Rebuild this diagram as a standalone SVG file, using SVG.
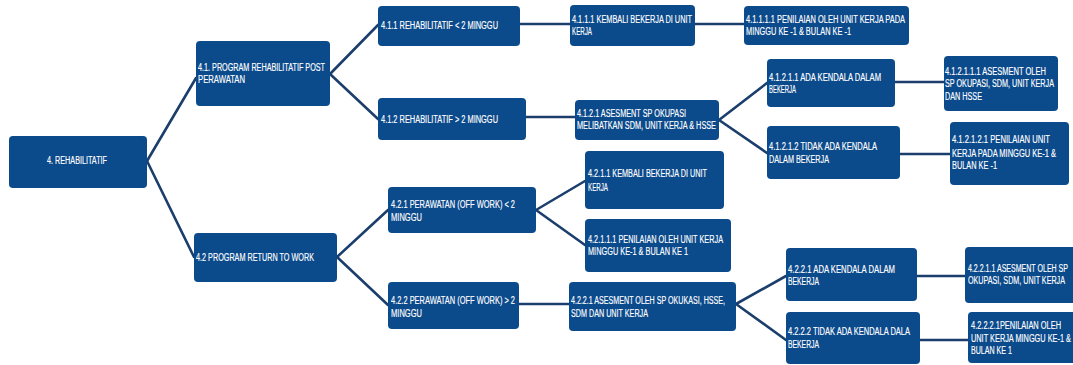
<svg xmlns="http://www.w3.org/2000/svg" width="1073" height="365" viewBox="0 0 1073 365">
<style>
.b{fill:#0b4a8b;}
.t{font-family:"Liberation Sans",Arial,sans-serif;font-size:10px;fill:#ffffff;stroke:#ffffff;stroke-width:0.15;}
.c line{stroke:#1b3e6c;stroke-width:2.6;stroke-linecap:round;}
</style>
<rect width="1073" height="365" fill="#ffffff"/>
<g class="c" id="connectors">
<line x1="147" y1="161" x2="196" y2="78"/>
<line x1="147" y1="161" x2="194" y2="257"/>
<line x1="330" y1="74" x2="378" y2="25"/>
<line x1="330" y1="74" x2="378" y2="119"/>
<line x1="520" y1="24" x2="570" y2="24"/>
<line x1="695" y1="24" x2="744" y2="24"/>
<line x1="526" y1="117" x2="575" y2="117"/>
<line x1="719" y1="120" x2="767" y2="83"/>
<line x1="719" y1="120" x2="767" y2="153"/>
<line x1="895" y1="82" x2="944" y2="82"/>
<line x1="900" y1="154" x2="950" y2="154"/>
<line x1="337" y1="257" x2="388" y2="210"/>
<line x1="337" y1="257" x2="388" y2="305"/>
<line x1="536" y1="210" x2="585" y2="181"/>
<line x1="536" y1="210" x2="585" y2="245"/>
<line x1="519" y1="304" x2="569" y2="304"/>
<line x1="736" y1="304" x2="786" y2="276"/>
<line x1="736" y1="304" x2="786" y2="340"/>
<line x1="917" y1="276" x2="965" y2="276"/>
<line x1="920" y1="340" x2="968" y2="340"/>
</g>
<g id="n4">
<rect class="b" x="9" y="136" width="138" height="52" rx="4"/>
<text class="t" x="47" y="164" textLength="60" lengthAdjust="spacingAndGlyphs">4. REHABILITATIF</text>
</g>
<g id="n41">
<rect class="b" x="196" y="41" width="134" height="65" rx="4"/>
<text class="t" x="198" y="71" textLength="127" lengthAdjust="spacingAndGlyphs">4.1. PROGRAM REHABILITATIF POST</text>
<text class="t" x="198" y="83" textLength="47" lengthAdjust="spacingAndGlyphs">PERAWATAN</text>
</g>
<g id="n42">
<rect class="b" x="194" y="233" width="143" height="49" rx="4"/>
<text class="t" x="196" y="261" textLength="118" lengthAdjust="spacingAndGlyphs">4.2 PROGRAM RETURN TO WORK</text>
</g>
<g id="n411">
<rect class="b" x="378" y="6" width="142" height="40" rx="4"/>
<text class="t" x="381" y="29" textLength="117" lengthAdjust="spacingAndGlyphs">4.1.1 REHABILITATIF &lt; 2 MINGGU</text>
</g>
<g id="n4111">
<rect class="b" x="570" y="5" width="125" height="41" rx="4"/>
<text class="t" x="572" y="23" textLength="120" lengthAdjust="spacingAndGlyphs">4.1.1.1 KEMBALI BEKERJA DI UNIT</text>
<text class="t" x="572" y="35" textLength="20" lengthAdjust="spacingAndGlyphs">KERJA</text>
</g>
<g id="n41111">
<rect class="b" x="744" y="6" width="165" height="39" rx="4"/>
<text class="t" x="746" y="23" textLength="159" lengthAdjust="spacingAndGlyphs">4.1.1.1.1  PENILAIAN OLEH UNIT KERJA PADA</text>
<text class="t" x="746" y="35" textLength="105" lengthAdjust="spacingAndGlyphs">MINGGU KE -1 &amp; BULAN KE -1</text>
</g>
<g id="n412">
<rect class="b" x="378" y="98" width="148" height="42" rx="4"/>
<text class="t" x="381" y="123" textLength="117" lengthAdjust="spacingAndGlyphs">4.1.2 REHABILITATIF &gt; 2 MINGGU</text>
</g>
<g id="n4121">
<rect class="b" x="575" y="100" width="144" height="40" rx="4"/>
<text class="t" x="577" y="117" textLength="109" lengthAdjust="spacingAndGlyphs">4.1.2.1 ASESMENT SP OKUPASI</text>
<text class="t" x="577" y="129" textLength="139" lengthAdjust="spacingAndGlyphs">MELIBATKAN SDM, UNIT KERJA &amp; HSSE</text>
</g>
<g id="n41211">
<rect class="b" x="767" y="59" width="128" height="48" rx="4"/>
<text class="t" x="769" y="81" textLength="112" lengthAdjust="spacingAndGlyphs">4.1.2.1.1 ADA KENDALA DALAM</text>
<text class="t" x="769" y="93" textLength="27" lengthAdjust="spacingAndGlyphs">BEKERJA</text>
</g>
<g id="n412111">
<rect class="b" x="944" y="56" width="114" height="55" rx="4"/>
<text class="t" x="945" y="75" textLength="101" lengthAdjust="spacingAndGlyphs">4.1.2.1.1.1 ASESMENT OLEH</text>
<text class="t" x="945" y="87" textLength="109" lengthAdjust="spacingAndGlyphs">SP OKUPASI, SDM, UNIT KERJA</text>
<text class="t" x="945" y="100" textLength="37" lengthAdjust="spacingAndGlyphs">DAN HSSE</text>
</g>
<g id="n41212">
<rect class="b" x="767" y="126" width="133" height="53" rx="4"/>
<text class="t" x="769" y="150" textLength="108" lengthAdjust="spacingAndGlyphs">4.1.2.1.2 TIDAK ADA KENDALA</text>
<text class="t" x="769" y="163" textLength="60" lengthAdjust="spacingAndGlyphs">DALAM BEKERJA</text>
</g>
<g id="n412121">
<rect class="b" x="950" y="122" width="119" height="63" rx="4"/>
<text class="t" x="952" y="143" textLength="98" lengthAdjust="spacingAndGlyphs">4.1.2.1.2.1 PENILAIAN UNIT</text>
<text class="t" x="952" y="157" textLength="104" lengthAdjust="spacingAndGlyphs">KERJA PADA MINGGU KE-1 &amp;</text>
<text class="t" x="952" y="169" textLength="45" lengthAdjust="spacingAndGlyphs">BULAN KE -1</text>
</g>
<g id="n421">
<rect class="b" x="388" y="187" width="148" height="46" rx="4"/>
<text class="t" x="391" y="208" textLength="124" lengthAdjust="spacingAndGlyphs">4.2.1 PERAWATAN (OFF WORK) &lt; 2</text>
<text class="t" x="391" y="221" textLength="31" lengthAdjust="spacingAndGlyphs">MINGGU</text>
</g>
<g id="n4211">
<rect class="b" x="585" y="151" width="139" height="58" rx="4"/>
<text class="t" x="588" y="177" textLength="119" lengthAdjust="spacingAndGlyphs">4.2.1.1 KEMBALI BEKERJA DI UNIT</text>
<text class="t" x="588" y="191" textLength="20" lengthAdjust="spacingAndGlyphs">KERJA</text>
</g>
<g id="n42111">
<rect class="b" x="585" y="219" width="146" height="53" rx="4"/>
<text class="t" x="588" y="243" textLength="135" lengthAdjust="spacingAndGlyphs">4.2.1.1.1 PENILAIAN OLEH UNIT KERJA</text>
<text class="t" x="588" y="255" textLength="100" lengthAdjust="spacingAndGlyphs">MINGGU KE-1 &amp; BULAN KE 1</text>
</g>
<g id="n422">
<rect class="b" x="388" y="282" width="131" height="47" rx="4"/>
<text class="t" x="391" y="304" textLength="124" lengthAdjust="spacingAndGlyphs">4.2.2 PERAWATAN (OFF WORK) &gt; 2</text>
<text class="t" x="391" y="317" textLength="31" lengthAdjust="spacingAndGlyphs">MINGGU</text>
</g>
<g id="n4221">
<rect class="b" x="569" y="282" width="167" height="49" rx="4"/>
<text class="t" x="571" y="304" textLength="154" lengthAdjust="spacingAndGlyphs">4.2.2.1 ASESMENT OLEH SP OKUKASI, HSSE,</text>
<text class="t" x="571" y="317" textLength="77" lengthAdjust="spacingAndGlyphs">SDM DAN UNIT KERJA</text>
</g>
<g id="n42211">
<rect class="b" x="786" y="248" width="131" height="53" rx="4"/>
<text class="t" x="788" y="273" textLength="107" lengthAdjust="spacingAndGlyphs">4.2.2.1 ADA KENDALA DALAM</text>
<text class="t" x="788" y="285" textLength="31" lengthAdjust="spacingAndGlyphs">BEKERJA</text>
</g>
<g id="n422111">
<rect class="b" x="965" y="247" width="115" height="56" rx="4"/>
<text class="t" x="968" y="272" textLength="100" lengthAdjust="spacingAndGlyphs">4.2.2.1.1 ASESMENT OLEH SP</text>
<text class="t" x="968" y="284" textLength="97" lengthAdjust="spacingAndGlyphs">OKUPASI, SDM, UNIT KERJA</text>
</g>
<g id="n4222">
<rect class="b" x="786" y="312" width="134" height="52" rx="4"/>
<text class="t" x="788" y="335" textLength="122" lengthAdjust="spacingAndGlyphs">4.2.2.2 TIDAK ADA KENDALA DALA</text>
<text class="t" x="788" y="348" textLength="31" lengthAdjust="spacingAndGlyphs">BEKERJA</text>
</g>
<g id="n42221">
<rect class="b" x="968" y="312" width="112" height="51" rx="4"/>
<text class="t" x="971" y="329" textLength="90" lengthAdjust="spacingAndGlyphs">4.2.2.2.1PENILAIAN OLEH</text>
<text class="t" x="971" y="342" textLength="100" lengthAdjust="spacingAndGlyphs">UNIT KERJA  MINGGU KE-1 &amp;</text>
<text class="t" x="971" y="354" textLength="41" lengthAdjust="spacingAndGlyphs">BULAN KE 1</text>
</g>
</svg>
